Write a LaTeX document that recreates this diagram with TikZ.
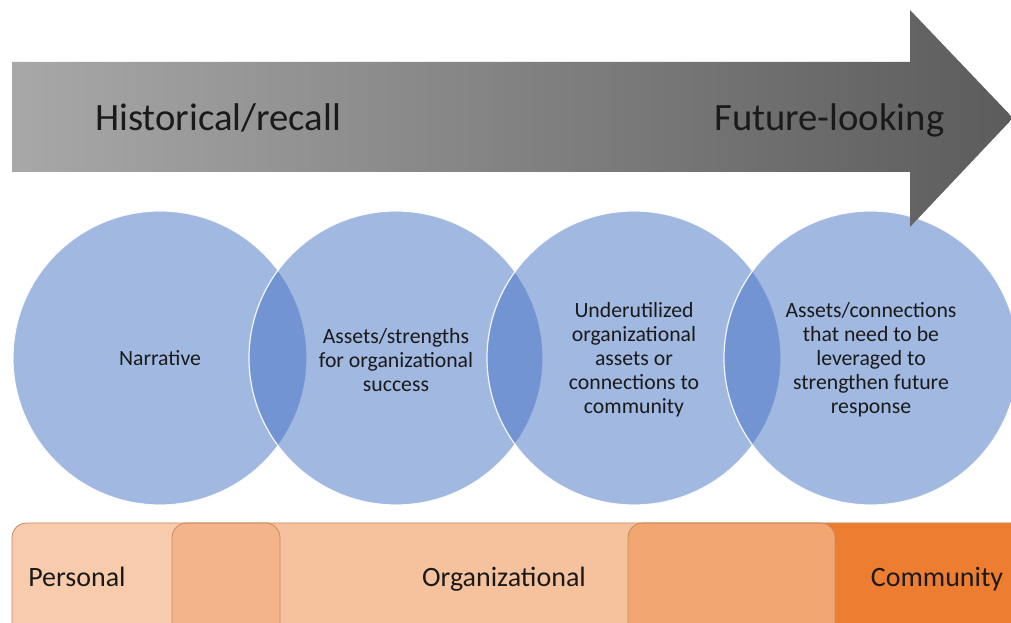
\documentclass[tikz,border=0pt]{standalone}
\usepackage{fontspec}
\setmainfont{Carlito}
\definecolor{arrowL}{HTML}{A8A8A8}
\definecolor{arrowR}{HTML}{5C5C5C}
\definecolor{circblue}{HTML}{4472C4}
\definecolor{txt}{HTML}{1A1A1A}
\definecolor{persC}{HTML}{F8CBAD}
\definecolor{orgC}{HTML}{F6C29E}
\definecolor{ov1C}{HTML}{F4B48A}
\definecolor{ov2C}{HTML}{F2A772}
\definecolor{comC}{HTML}{ED7D31}
\definecolor{edgeC}{HTML}{C98A5E}
\tikzset{
  circnode/.style={circle, minimum size=220.5pt, inner sep=0pt, fill=circblue, fill opacity=0.5, draw=white, draw opacity=0.9, line width=0.9pt},
  circtext/.style={align=center, text=txt, font=\fontsize{16.3}{18}\selectfont, inner sep=0pt},
  arrowtext/.style={text=txt, font=\fontsize{29}{34}\selectfont, inner sep=0pt},
  bartext/.style={text=txt, font=\fontsize{21}{25}\selectfont, inner sep=0pt},
  barbox/.style={rounded corners=11pt, draw=edgeC, line width=0.6pt}
}
\begin{document}
\begin{tikzpicture}[x=0.75pt,y=-0.75pt]
\useasboundingbox (0,0) rectangle (1011,623);
\clip (0,0) rectangle (1011,623);
\fill[white] (0,0) rectangle (1011,623);
% circles
\node[circnode] (c1) at (160,358) {};
\node[circnode] (c2) at (396,358) {};
\node[circnode] (c3) at (634,358) {};
\node[circnode] (c4) at (871,358) {};
\node[circtext] (t1) at (c1.center) {Narrative};
\node[circtext] (t2) at ([yshift=-1.5pt]c2.center) {Assets/strengths\\for organizational\\success};
\node[circtext] (t3) at ([yshift=-1.5pt]c3.center) {Underutilized\\organizational\\assets or\\connections to\\community};
\node[circtext] (t4) at ([yshift=-1.5pt]c4.center) {Assets/connections\\that need to be\\leveraged to\\strengthen future\\response};
% arrow (on top of the circles)
\shade[left color=arrowL, right color=arrowR] (12,62) -- (910,62) -- (910,10) -- (1013,118) -- (910,227) -- (910,172) -- (12,172) -- cycle;
\node[arrowtext, anchor=base west] (hist) at (95,131) {Historical/recall};
\node[arrowtext, anchor=base west] (fut) at (714,131) {Future-looking};
% bottom bar
\fill[persC, rounded corners=11pt] (12,523) rectangle (280,660);
\fill[orgC, rounded corners=11pt] (172,523) rectangle (835,660);
\fill[comC, rounded corners=11pt] (628,523) rectangle (1040,660);
\begin{scope}
\clip[rounded corners=11pt] (12,523) rectangle (280,660);
\fill[ov1C, rounded corners=11pt] (172,523) rectangle (835,660);
\end{scope}
\begin{scope}
\clip[rounded corners=11pt] (172,523) rectangle (835,660);
\fill[ov2C, rounded corners=11pt] (628,523) rectangle (1040,660);
\end{scope}
\draw[barbox] (12,523) rectangle (280,660);
\draw[barbox] (172,523) rectangle (835,660);
\draw[barbox] (628,523) rectangle (1040,660);
\node[bartext, anchor=base west] (pers) at (28,586) {Personal};
\node[bartext, anchor=base] (org) at (504,586) {Organizational};
\node[bartext, anchor=base] (com) at (937,586) {Community};
\end{tikzpicture}
\end{document}
